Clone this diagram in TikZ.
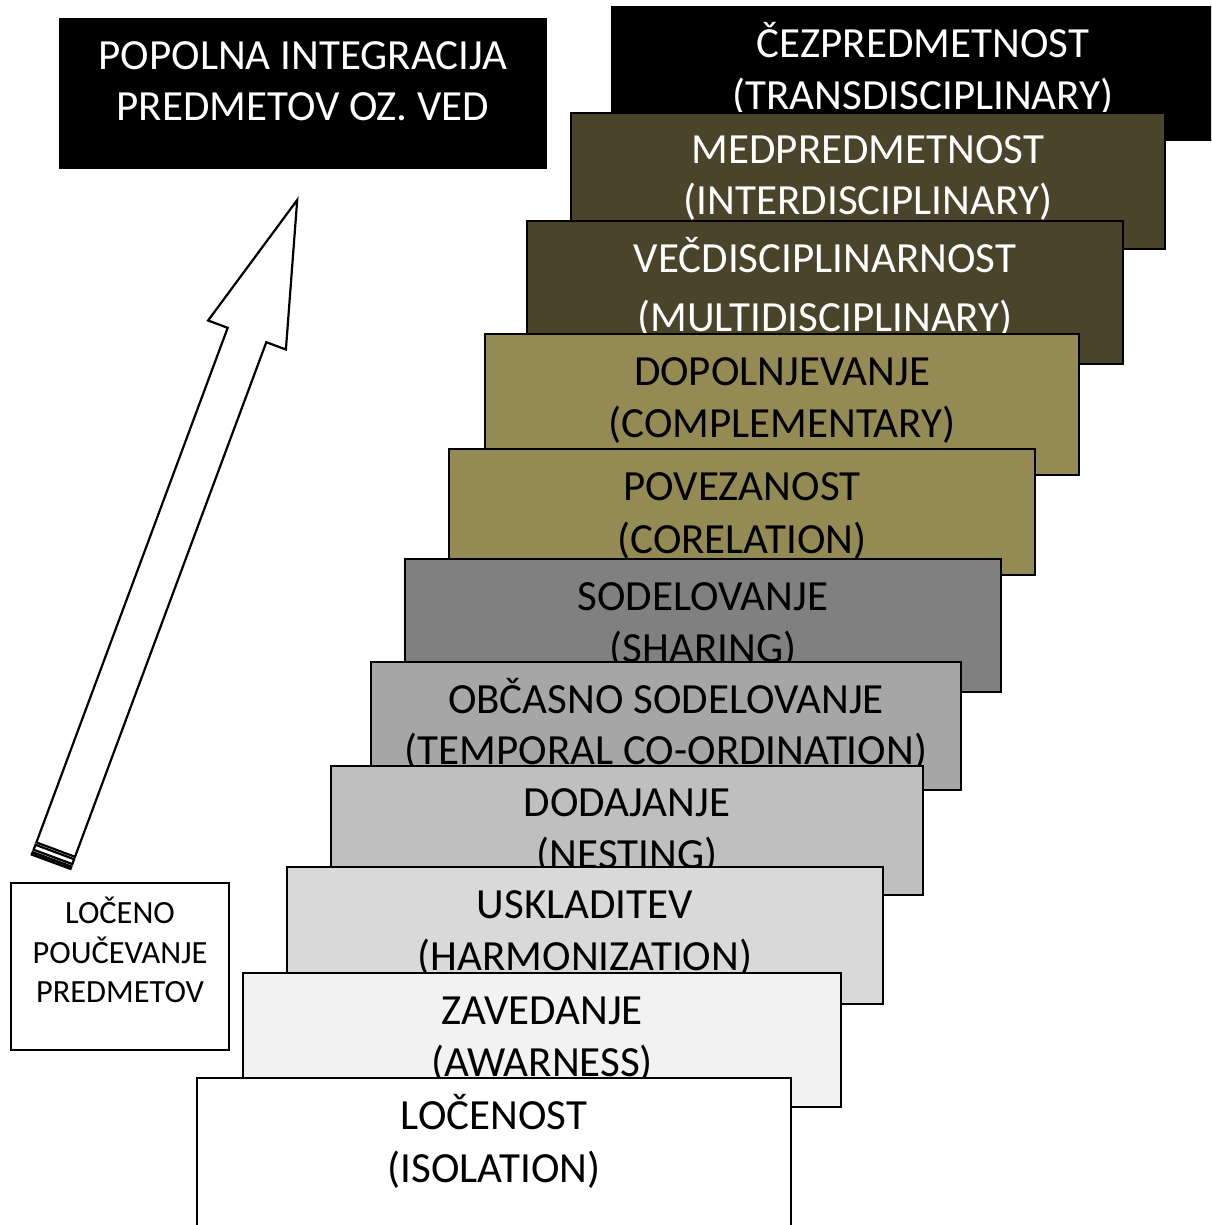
\documentclass[tikz,border=0pt]{standalone}
\usepackage{fontspec}
\setmainfont{Carlito}
\usetikzlibrary{calc, positioning}

\definecolor{olivedark}{HTML}{4A452A}
\definecolor{olivemid}{HTML}{948A54}
\definecolor{grayA}{HTML}{808080}
\definecolor{grayB}{HTML}{A6A6A6}
\definecolor{grayC}{HTML}{BFBFBF}
\definecolor{grayD}{HTML}{D9D9D9}
\definecolor{grayE}{HTML}{F2F2F2}

\begin{document}
\begin{tikzpicture}[x=0.5pt,y=-0.5pt,
  box/.style={draw=black, line width=1pt},
  arrowline/.style={draw=black, fill=white, line width=1.1pt},
  lbl/.style={anchor=base, inner sep=0pt, font=\fontsize{21.5}{26}\selectfont},
  small/.style={anchor=base, inner sep=0pt, font=\fontsize{16.2}{20}\selectfont}]

\useasboundingbox (0,0) rectangle (1211,1225);
\clip (0,0) rectangle (1211,1225);

% goal box
\draw[box, fill=black] (60,19) rectangle (546,168);
\node[lbl, text=white] (goal1) at (303,70) {POPOLNA INTEGRACIJA};
\node[lbl, text=white] (goal2) at (303,121) {PREDMETOV OZ. VED};

% start box
\draw[box, fill=white] (11,883) rectangle (229,1050);
\node[small] (start1) at (120,923) {LOČENO};
\node[small] (start2) at (120,963) {POUČEVANJE};
\node[small] (start3) at (120,1002) {PREDMETOV};

% striped arrow
\coordinate (tip) at (297.2,200);
\coordinate (lb) at (208.1,320.5);
\coordinate (li) at (227.7,327.8);
\coordinate (lt) at (36.4,842.4);
\coordinate (rt) at (75.0,856.8);
\coordinate (ri) at (266.3,342.2);
\coordinate (rb) at (285.9,349.5);
\draw[arrowline] (tip) -- (lb) -- (li) -- (lt) -- (rt) -- (ri) -- (rb) -- cycle;
\draw[arrowline] (35.5,844.8) -- (33.6,849.7) -- (72.3,864.1) -- (74.1,859.2) -- cycle;
\draw[arrowline] (32.7,852.2) -- (31.8,854.6) -- (70.5,868.9) -- (71.4,866.5) -- cycle;

% stairs, top one first
\draw[box, fill=black] (612,7) rectangle (1234,140);
\node[lbl, text=white] (s1a) at (923,58) {ČEZPREDMETNOST};
\node[lbl, text=white] (s1b) at (923,110) {(TRANSDISCIPLINARY)};

\draw[box, fill=olivedark] (571,113) rectangle (1165,249);
\node[lbl, text=white] (s2a) at (868,164) {MEDPREDMETNOST};
\node[lbl, text=white] (s2b) at (868,215) {(INTERDISCIPLINARY)};

\draw[box, fill=olivedark] (527,221) rectangle (1123,364);
\node[lbl, text=white] (s3a) at (825,272) {VEČDISCIPLINARNOST};
\node[lbl, text=white] (s3b) at (825,331) {(MULTIDISCIPLINARY)};

\draw[box, fill=olivemid] (485,334) rectangle (1079,475);
\node[lbl] (s4a) at (782,385) {DOPOLNJEVANJE};
\node[lbl] (s4b) at (782,437) {(COMPLEMENTARY)};

\draw[box, fill=olivemid] (449,449) rectangle (1035,575);
\node[lbl] (s5a) at (742,500) {POVEZANOST};
\node[lbl] (s5b) at (742,553) {(CORELATION)};

\draw[box, fill=grayA] (405,559) rectangle (1001,692);
\node[lbl] (s6a) at (703,610) {SODELOVANJE};
\node[lbl] (s6b) at (703,662) {(SHARING)};

\draw[box, fill=grayB] (371,662) rectangle (961,790);
\node[lbl] (s7a) at (666,713) {OBČASNO SODELOVANJE};
\node[lbl] (s7b) at (666,764) {(TEMPORAL CO-ORDINATION)};

\draw[box, fill=grayC] (331,766) rectangle (923,895);
\node[lbl] (s8a) at (627,816) {DODAJANJE};
\node[lbl] (s8b) at (627,868) {(NESTING)};

\draw[box, fill=grayD] (287,867) rectangle (883,1004);
\node[lbl] (s9a) at (585,918) {USKLADITEV};
\node[lbl] (s9b) at (585,970) {(HARMONIZATION)};

\draw[box, fill=grayE] (243,973) rectangle (841,1107);
\node[lbl] (s10a) at (542,1024) {ZAVEDANJE};
\node[lbl] (s10b) at (542,1076) {(AWARNESS)};

\draw[box, fill=white] (197,1078) rectangle (791,1240);
\node[lbl] (s11a) at (494,1129) {LOČENOST};
\node[lbl] (s11b) at (494,1182) {(ISOLATION)};
\end{tikzpicture}
\end{document}
